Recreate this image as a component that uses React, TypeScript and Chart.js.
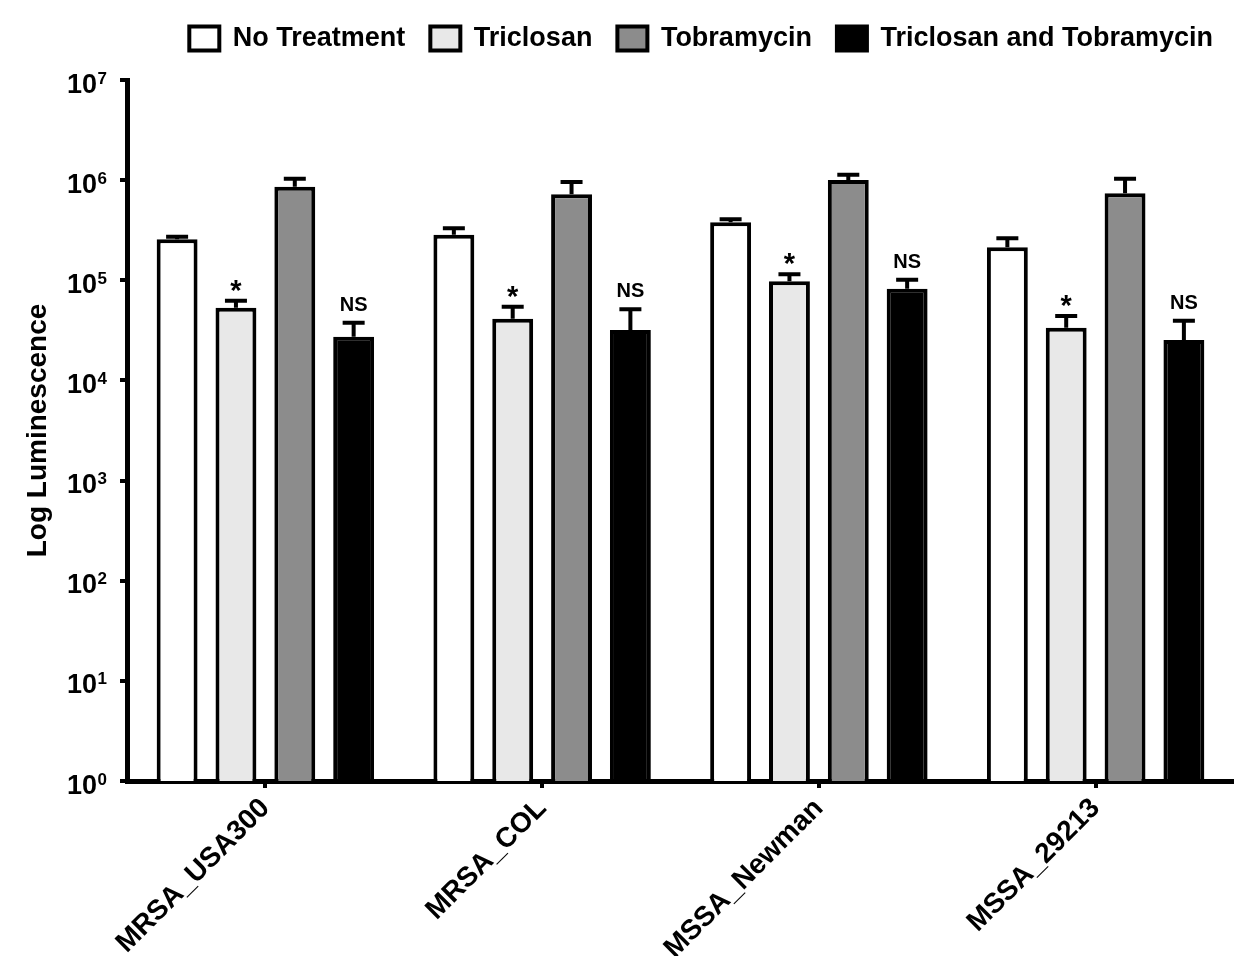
import React, { useEffect, useRef } from 'react';
import { Chart, registerables } from 'chart.js';

Chart.register(...registerables);

const FONT = '"Liberation Sans", Arial, Helvetica, sans-serif';

const strains = ['MRSA_USA300', 'MRSA_COL', 'MSSA_Newman', 'MSSA_29213'];
const seriesNames = ['No Treatment', 'Triclosan', 'Tobramycin', 'Triclosan and Tobramycin'];

const noTreatment = [2.57e5, 2.85e5, 3.79e5, 2.14e5];
const noTreatmentErr = [1.5e4, 4.5e4, 2.8e4, 4.9e4];
const triclosan = [5.33e4, 4.14e4, 9.77e4, 3.36e4];
const triclosanErr = [9.2e3, 1.31e4, 1.7e4, 1.04e4];
const tobramycin = [8.6e5, 7.22e5, 1.004e6, 7.39e5];
const tobramycinErr = [1.75e5, 2.37e5, 1.3e5, 2.96e5];
const combination = [2.73e4, 3.19e4, 8.24e4, 2.53e4];
const combinationErr = [1.04e4, 1.94e4, 1.9e4, 1.42e4];

const triclosanMarks = ['*', '*', '*', '*'];
const combinationMarks = ['NS', 'NS', 'NS', 'NS'];

const yTickExponents = [0, 1, 2, 3, 4, 5, 6, 7];

const fills = ['#ffffff', '#e8e8e8', '#8c8c8c', '#000000'];

export default function App() {
  const ref = useRef<HTMLCanvasElement | null>(null);

  useEffect(() => {
    if (!ref.current) return;
    const values = [noTreatment, triclosan, tobramycin, combination];
    const errors = [noTreatmentErr, triclosanErr, tobramycinErr, combinationErr];
    const marks: (string[] | null)[] = [null, triclosanMarks, null, combinationMarks];

    const overlay = {
      id: 'overlay',
      afterDatasetsDraw(chart: any) {
        const ctx = chart.ctx;
        const y = chart.scales.y;
        ctx.save();
        ctx.strokeStyle = '#000';
        ctx.fillStyle = '#000';
        ctx.lineWidth = 4;
        chart.data.datasets.forEach((_ds: any, di: number) => {
          const meta = chart.getDatasetMeta(di);
          meta.data.forEach((bar: any, i: number) => {
            const top = y.getPixelForValue(values[di][i] + errors[di][i]);
            const x = bar.x;
            ctx.beginPath();
            ctx.moveTo(x, bar.y);
            ctx.lineTo(x, top);
            ctx.moveTo(x - 11, top);
            ctx.lineTo(x + 11, top);
            ctx.stroke();
            const m = marks[di];
            if (m) {
              const t = m[i];
              ctx.textAlign = 'center';
              ctx.textBaseline = 'alphabetic';
              if (t === '*') {
                ctx.font = `bold 29px ${FONT}`;
                ctx.fillText(t, x, top - 1);
              } else {
                ctx.font = `bold 20px ${FONT}`;
                ctx.fillText(t, x, top - 12);
              }
            }
          });
        });
        ctx.restore();
      },
      afterDraw(chart: any) {
        const ctx = chart.ctx;
        const y = chart.scales.y;
        const left = chart.chartArea.left;
        ctx.save();
        ctx.fillStyle = '#000';
        ctx.textBaseline = 'alphabetic';
        yTickExponents.forEach((e) => {
          const py = y.getPixelForValue(Math.pow(10, e));
          ctx.font = `bold 27px ${FONT}`;
          ctx.textAlign = 'right';
          ctx.fillText('10', left - 30, py + 12.5);
          ctx.font = `bold 17px ${FONT}`;
          ctx.textAlign = 'left';
          ctx.fillText(String(e), left - 29.5, py + 3.5);
        });
        ctx.restore();
      },
    };

    const chart = new Chart(ref.current, {
      type: 'bar',
      data: {
        labels: strains,
        datasets: seriesNames.map((name, k) => ({
          label: name,
          data: values[k],
          backgroundColor: fills[k],
          borderColor: '#000',
          borderWidth: 4,
          borderSkipped: 'bottom' as const,
          barPercentage: 0.695,
          categoryPercentage: 0.8505,
        })),
      },
      options: {
        responsive: false,
        animation: false,
        layout: { padding: { top: 0, left: 0, right: -4, bottom: 0 } },
        plugins: {
          legend: {
            position: 'top',
            align: 'end',
            weight: 3000,
            labels: {
              boxWidth: 30,
              boxHeight: 24,
              padding: 25,
              color: '#000',
              font: { family: FONT, size: 27, weight: 'bold' },
            },
          },
          title: {
            display: true,
            text: '',
            padding: { top: 0, bottom: 17 },
            font: { size: 1, lineHeight: 1 },
          },
          tooltip: { enabled: false },
        },
        scales: {
          x: {
            type: 'category',
            offset: true,
            grid: {
              offset: false,
              drawOnChartArea: false,
              drawTicks: true,
              tickLength: 7,
              color: '#000',
              lineWidth: 4,
            },
            border: { display: true, color: '#000', width: 5 },
            ticks: {
              autoSkip: false,
              minRotation: 45,
              maxRotation: 45,
              padding: 4,
              color: '#000',
              font: { family: FONT, size: 28, weight: 'bold' },
            },
            afterFit(scale: any) {
              scale.height = 175;
            },
          },
          y: {
            type: 'logarithmic',
            min: 1,
            max: 1e7,
            grid: {
              drawOnChartArea: false,
              drawTicks: true,
              tickLength: 7,
              color: '#000',
              lineWidth: 4,
            },
            border: { display: true, color: '#000', width: 5 },
            ticks: { display: false },
            title: {
              display: true,
              text: 'Log Luminescence',
              color: '#000',
              font: { family: FONT, size: 28, weight: 'bold' },
              padding: { top: 21, bottom: 0 },
            },
            afterBuildTicks(scale: any) {
              scale.ticks = yTickExponents.map((e) => ({ value: Math.pow(10, e) }));
            },
            afterFit(scale: any) {
              scale.width = 127;
            },
          },
        },
      },
      plugins: [overlay],
    } as any);

    return () => chart.destroy();
  }, []);

  return (
    <div style={{ position: 'fixed', left: 0, top: 0, width: 1234, height: 956, background: '#fff' }}>
      <canvas ref={ref} width={1234} height={956} style={{ display: 'block' }} />
    </div>
  );
}
